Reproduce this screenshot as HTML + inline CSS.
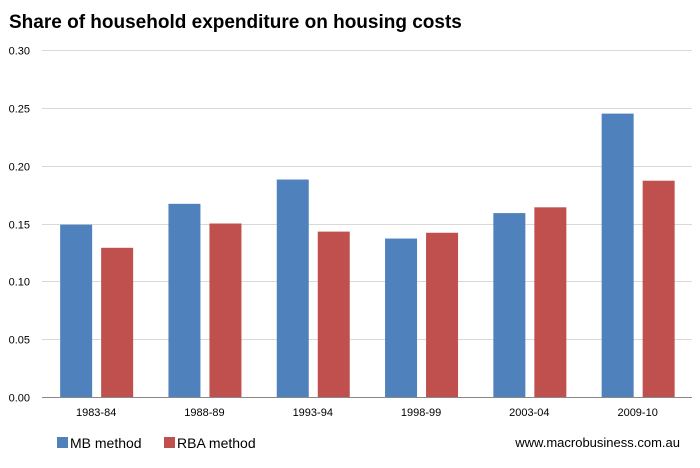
<!DOCTYPE html>
<html><head><meta charset="utf-8"><style>
body{margin:0;background:#fff;width:700px;height:468px;overflow:hidden;font-family:"Liberation Sans",sans-serif}
svg{display:block}
</style></head><body>
<svg id="chart" width="700" height="468">
<text x="9" y="28" font-size="19" font-weight="bold" fill="#000">Share of household expenditure on housing costs</text>
<g id="grid"></g><g id="bars"></g><g id="xlabels"></g>
<line x1="42" y1="397.5" x2="692" y2="397.5" stroke="#888"/>
<g>
<rect x="57" y="437" width="11" height="11" fill="#4f81bd"/>
<text x="70" y="448" font-size="14">MB method</text>
<rect x="164" y="437" width="11" height="11" fill="#c0504d"/>
<text x="177" y="448" font-size="14">RBA method</text>
</g>
<text x="680" y="447" font-size="13" text-anchor="end">www.macrobusiness.com.au</text>
</svg>
<script>
const categories=["1983-84","1988-89","1993-94","1998-99","2003-04","2009-10"];
const mbValues=[0.149,0.167,0.188,0.137,0.159,0.245];
const rbaValues=[0.129,0.150,0.143,0.142,0.164,0.187];
const yTicks=["0.00","0.05","0.10","0.15","0.20","0.25","0.30"];
const NS="http://www.w3.org/2000/svg";
function y(v){return 397-v/0.30*347;}
function xc(i){return 42+108.3*(i+0.5);}
const grid=document.getElementById('grid');
yTicks.forEach(t=>{const v=parseFloat(t);const yy=Math.round(y(v))+0.5;
 if(v>0){const l=document.createElementNS(NS,'line');l.setAttribute('x1',42);l.setAttribute('x2',692);l.setAttribute('y1',yy);l.setAttribute('y2',yy);l.setAttribute('stroke','#d9d9d9');
 
 grid.appendChild(l);}
 const tx=document.createElementNS(NS,'text');tx.setAttribute('x',30);tx.setAttribute('y',yy+4);tx.setAttribute('font-size','11');tx.setAttribute('text-anchor','end');tx.textContent=t;
 
 grid.appendChild(tx);});
const bars=document.getElementById('bars'),xl=document.getElementById('xlabels');
categories.forEach((c,i)=>{
 [[mbValues[i],'#4f81bd',-36,'bar-mb'],[rbaValues[i],'#c0504d',5,'bar-rba']].forEach(([v,col,off,nm])=>{
  const r=document.createElementNS(NS,'rect');r.setAttribute('x',xc(i)+off);r.setAttribute('width',32);r.setAttribute('y',y(v));r.setAttribute('height',397-y(v));r.setAttribute('fill',col);
  
  bars.appendChild(r);});
 const t=document.createElementNS(NS,'text');t.setAttribute('x',xc(i));t.setAttribute('y',416);t.setAttribute('font-size','11');t.setAttribute('text-anchor','middle');t.textContent=c;
 
 xl.appendChild(t);});
</script>
</body></html>
